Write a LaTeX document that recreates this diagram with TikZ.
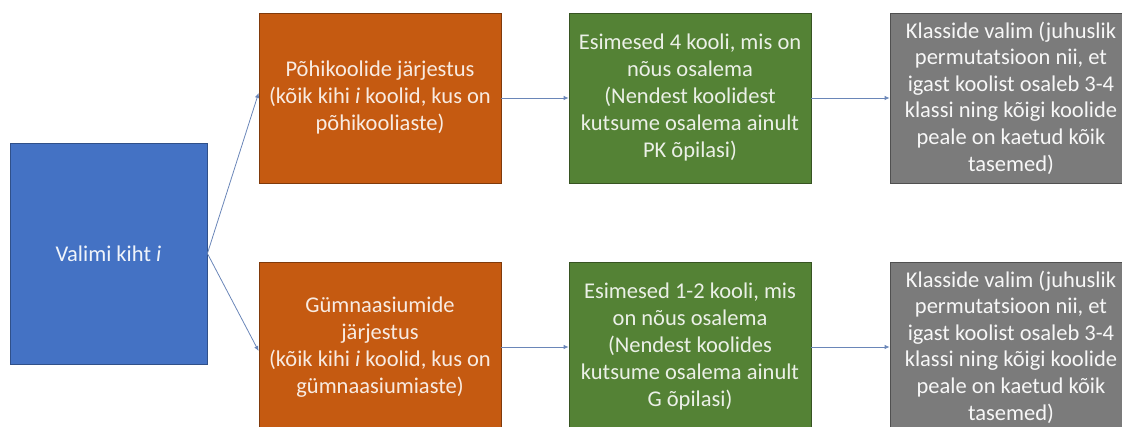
\documentclass[tikz,border=0pt]{standalone}
\usepackage{fontspec}
\setmainfont{Carlito}
\usetikzlibrary{arrows.meta}
\definecolor{cblue}{HTML}{4472C4}
\definecolor{corange}{HTML}{C55A11}
\definecolor{cgreen}{HTML}{548235}
\definecolor{cgray}{HTML}{7B7B7B}
\definecolor{carrow}{HTML}{6A86B8}
\tikzset{
  box/.style={rectangle, minimum width=242pt, minimum height=170pt, align=center,
    font=\fontsize{22.5}{27}\selectfont, inner sep=0pt, line width=0.8pt},
  bluebox/.style={box, fill=cblue, draw=cblue!70!black, text=white!92!cblue, minimum width=197pt, minimum height=221pt},
  orangebox/.style={box, fill=corange, draw=corange!65!black, text=white!88!corange},
  greenbox/.style={box, fill=cgreen, draw=cgreen!65!black, text=white!88!cgreen},
  graybox/.style={box, fill=cgray, draw=cgray!65!black, text=white!94!cgray, font=\fontsize{22.5}{26.6}\selectfont},
  conn/.style={draw=carrow, line width=0.8pt, -{Latex[length=5pt,width=4.5pt]}}
}
\begin{document}
\begin{tikzpicture}[x=1pt,y=-1pt]
\useasboundingbox (0,0) rectangle (1122,427);
\clip (0,0) rectangle (1122,427);
\node[bluebox] (blue) at (108.5,253.5) {Valimi kiht \textit{i}};
\node[orangebox] (o1) at (380,98) {Põhikoolide järjestus\\(kõik kihi \textit{i} koolid, kus on\\põhikooliaste)};
\node[greenbox] (g1) at (690,98) {Esimesed 4 kooli, mis on\\nõus osalema\\(Nendest koolidest\\kutsume osalema ainult\\PK õpilasi)};
\node[graybox] (k1) at (1011,98) {Klasside valim (juhuslik\\permutatsioon nii, et\\igast koolist osaleb 3-4\\klassi ning kõigi koolide\\peale on kaetud kõik\\tasemed)};
\node[orangebox] (o2) at (380,347) {Gümnaasiumide\\järjestus\\(kõik kihi \textit{i} koolid, kus on\\gümnaasiumiaste)};
\node[greenbox] (g2) at (690,347) {Esimesed 1-2 kooli, mis\\on nõus osalema\\(Nendest koolides\\kutsume osalema ainult\\G õpilasi)};
\node[graybox] (k2) at (1011,347) {Klasside valim (juhuslik\\permutatsioon nii, et\\igast koolist osaleb 3-4\\klassi ning kõigi koolide\\peale on kaetud kõik\\tasemed)};
\draw[conn] (blue.east) -- ([yshift=5pt]o1.west);
\draw[conn] (blue.east) -- ([yshift=-4pt]o2.west);
\draw[conn] (o1.east) -- (g1.west);
\draw[conn] (g1.east) -- (k1.west);
\draw[conn] (o2.east) -- (g2.west);
\draw[conn] (g2.east) -- (k2.west);
\end{tikzpicture}
\end{document}
